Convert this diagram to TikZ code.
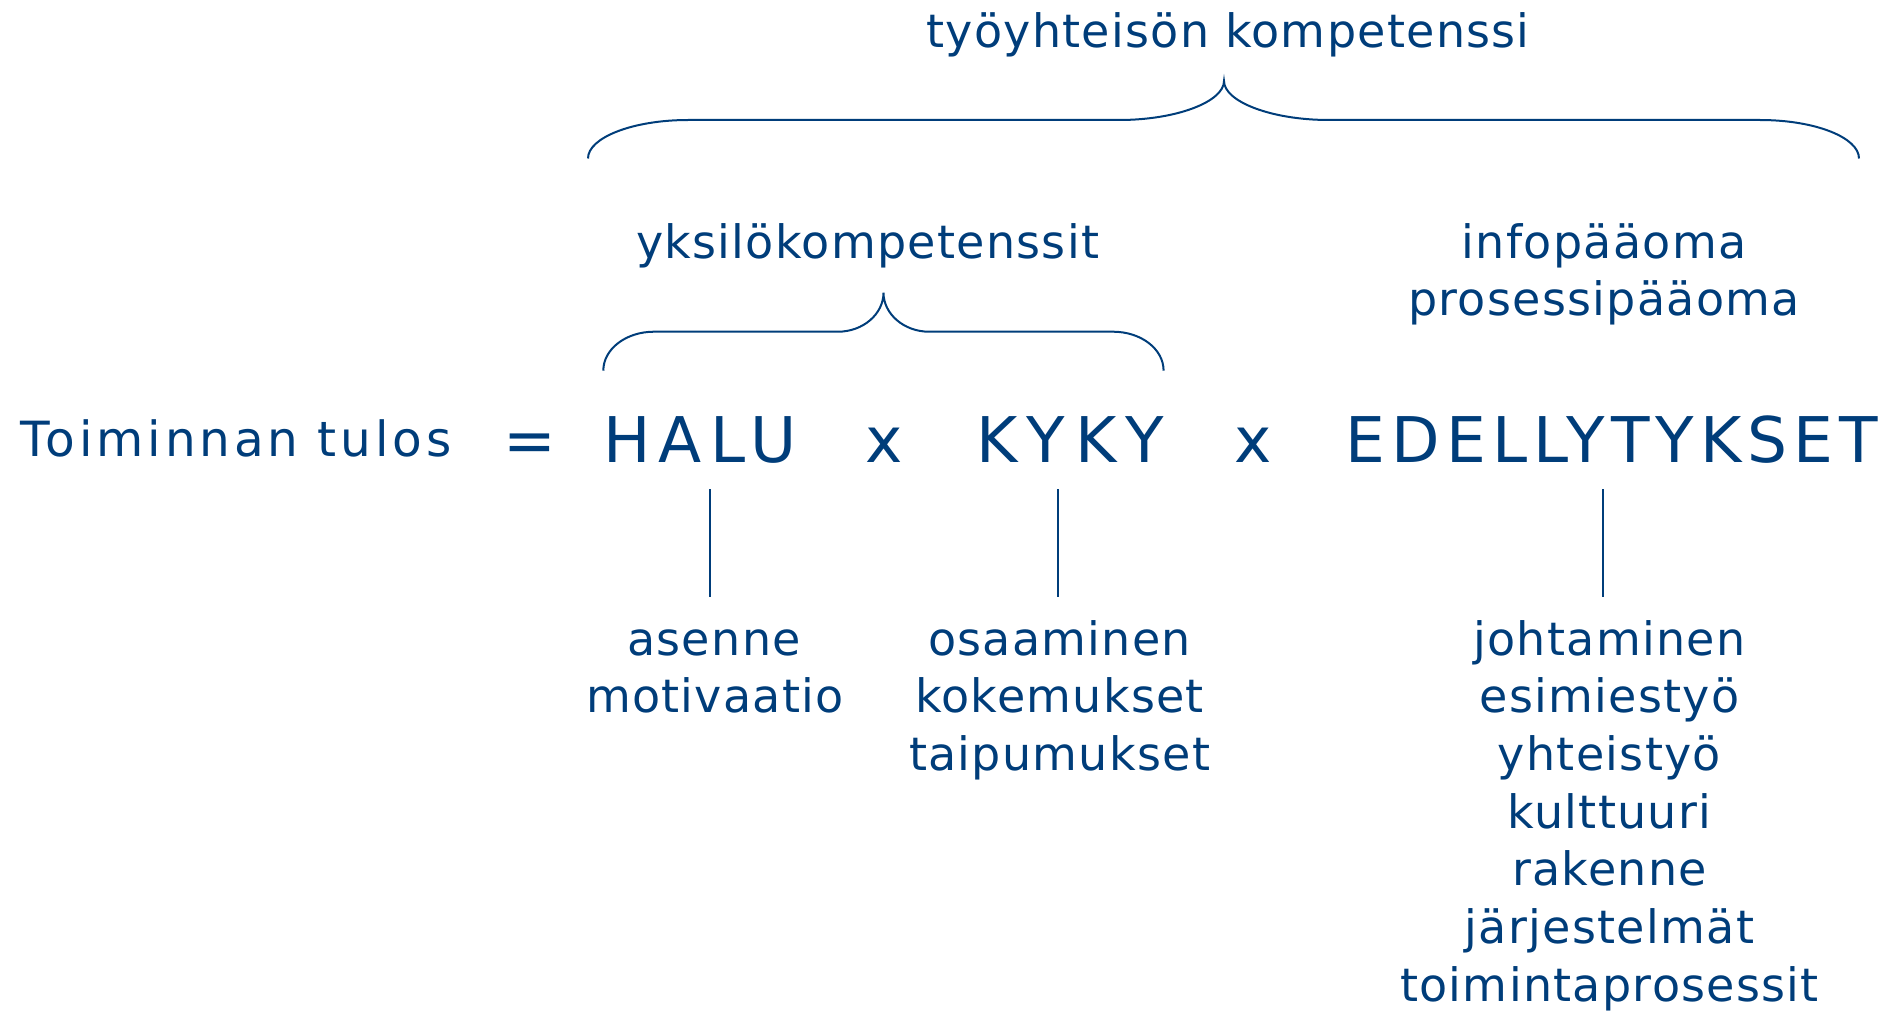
\documentclass[tikz,border=0pt]{standalone}
\usepackage{fontspec}
\setmainfont{DejaVu Sans}
\definecolor{navy}{RGB}{0,61,122}
\newcommand{\smallfnt}{\fontsize{23pt}{27pt}\selectfont\addfontfeature{LetterSpace=2.8}}
\newcommand{\bigfnt}{\fontsize{31.5pt}{36pt}\selectfont}
\begin{document}
\begin{tikzpicture}[x=0.5pt,y=-0.5pt,
  every node/.style={inner sep=0pt, outer sep=0pt, text=navy, anchor=base},
  small/.style={font=\smallfnt},
  mid/.style={font={\fontsize{24.25pt}{28pt}\selectfont\addfontfeature{LetterSpace=8}}},
  big/.style={font={\bigfnt\addfontfeature{LetterSpace=#1}}},
  brace/.style={draw=navy, line width=1pt},
  stem/.style={draw=navy, line width=1pt}]
\useasboundingbox (0,0) rectangle (1897,1011);

% top brace and label
\node[small] (tk) at (1228,48) {työyhteisön kompetenssi};
\draw[brace] (588,158.5) .. controls (588,137.5) and (633,120) .. (688,120) -- (1119,120)
  .. controls (1177,120) and (1224,101.5) .. (1224,81)
  .. controls (1224,101.5) and (1271,120) .. (1329,120) -- (1760,120)
  .. controls (1815,120) and (1859,137.5) .. (1859,158.5);

% second level
\node[small] (yk) at (867.6,258) {yksilökompetenssit};
\node[small] (info1) at (1604,258) {infopääoma};
\node[small] (info2) at (1604,315) {prosessipääoma};
\draw[brace] (603.3,370.7) .. controls (603.3,349) and (626,331.7) .. (654,331.7) -- (838,331.7)
  .. controls (863,331.7) and (883.5,314) .. (883.5,292.7)
  .. controls (883.5,314) and (904,331.7) .. (929,331.7) -- (1113,331.7)
  .. controls (1141,331.7) and (1163.6,349) .. (1163.6,370.7);

% equation row
\node[mid] (tt) at (236,456) {Toiminnan tulos};
\node[big=0] (eq) at (529.5,462) {=};
\node[big=12.8] (halu) at (699.9,462) {HALU};
\node[big=0] (x1) at (884.5,462) {x};
\node[big=17] (kyky) at (1070,462) {KYKY};
\node[big=0] (x2) at (1253,462) {x};
\node[big=9.7] (edel) at (1612,462) {EDELLYTYKSET};

% lower lists
\node[small] (a1) at (714,655) {asenne};
\node[small] (a2) at (715,712.8) {motivaatio};
\node[small] (k1) at (1059.6,655) {osaaminen};
\node[small] (k2) at (1059.6,712.8) {kokemukset};
\node[small] (k3) at (1059.6,770.6) {taipumukset};
\foreach \t [count=\i] in {johtaminen,esimiestyö,yhteistyö,kulttuuri,rakenne,järjestelmät,toimintaprosessit}
  \node[small] (e\i) at (1609.5,{655+57.7*(\i-1)}) {\t};

% stems
\draw[stem] (halu.base -| a1.base) ++(-4.5,27) -- ++(0,107.7);
\draw[stem] (kyky.base -| k1.base) ++(-1.9,27) -- ++(0,107.7);
\draw[stem] (edel.base -| e1.base) ++(-7,27) -- ++(0,107.7);
\end{tikzpicture}
\end{document}
